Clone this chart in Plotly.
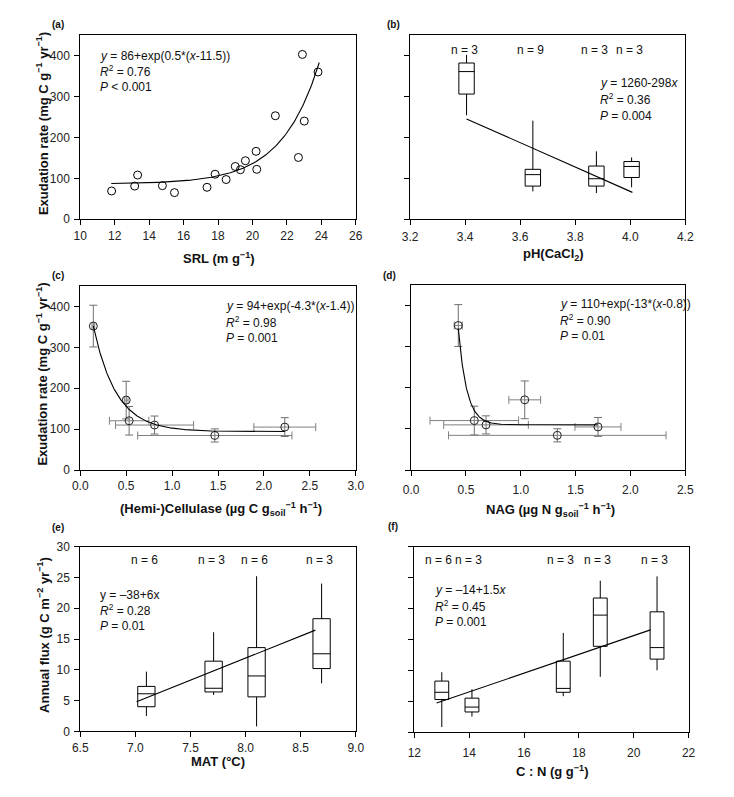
import numpy as np
import plotly.graph_objects as go

W, H = 734, 797
FONT = "Arial, Liberation Sans, sans-serif"

# ---------------- data ----------------
# (a) SRL vs exudation rate
srl = [11.82, 13.16, 13.33, 14.77, 15.47, 17.36, 17.83, 18.47, 19.0, 19.3,
       19.59, 20.21, 20.25, 21.33, 22.67, 22.9, 23.01, 23.81]
exud_a = [69, 81, 108, 82, 65, 78, 110, 97, 129, 121,
          143, 166, 122, 253, 151, 403, 240, 360]
fit_a = dict(a=86, b=0.46, c=11.5, x0=11.8, x1=23.88)

# (b) pH boxes
ph_pos = [3.405, 3.646, 3.877, 4.005]
ph_lo = [254, 68, 64, 78]
ph_q1 = [306, 81, 81, 102]
ph_med = [361, 109, 99, 129]
ph_q3 = [382, 122, 130, 141]
ph_hi = [402, 241, 166, 151]
ph_n = ["n = 3", "n = 9", "n = 3", "n = 3"]
fit_b = dict(a=1260, b=-298, x0=3.405, x1=4.008)

# (c)/(d) means with SE
exud_mean = [352, 171, 120.5, 110, 84.5, 105]
exud_err = [51, 46, 35, 22, 16, 23]
cell_x = [0.142, 0.50, 0.532, 0.809, 1.465, 2.227]
cell_xerr = [0.015, 0.02, 0.215, 0.425, 0.84, 0.337]
fit_c = dict(a=94, b=4.0, c=1.53, x0=0.142, x1=2.227)
nag_x = [0.430, 1.036, 0.576, 0.683, 1.333, 1.704]
nag_xerr = [0.037, 0.145, 0.404, 0.386, 0.992, 0.21]
fit_d = dict(a=110, b=13, c=0.85, x0=0.43, x1=1.70)

# (e) MAT boxes
mat_pos = [7.1, 7.71, 8.10, 8.69]
mat_lo = [2.5, 5.9, 0.8, 7.8]
mat_q1 = [4.0, 6.4, 5.6, 10.2]
mat_med = [6.1, 7.0, 9.0, 12.6]
mat_q3 = [7.3, 11.4, 13.6, 18.3]
mat_hi = [9.7, 16.1, 25.2, 24.0]
mat_n = ["n = 6", "n = 3", "n = 6", "n = 3"]
fit_e = dict(a=-45.55, b=7.18, x0=7.011, x1=8.634)

# (f) C:N boxes
cn_pos = [13.0, 14.1, 17.43, 18.78, 20.85]
cn_lo = [0.85, 2.55, 5.84, 8.97, 10.03]
cn_q1 = [5.3, 3.29, 6.47, 13.9, 11.83]
cn_med = [6.47, 4.08, 7.1, 18.94, 13.69]
cn_q3 = [8.28, 5.52, 11.5, 21.7, 19.47]
cn_hi = [9.71, 6.95, 16.07, 24.5, 25.2]
cn_n = ["n = 6", "n = 3", "n = 3", "n = 3", "n = 3"]
fit_f = dict(a=-14.71, b=1.517, x0=12.81, x1=20.61)

# ---------------- figure ----------------
fig = go.Figure()

# panel pixel boxes: (left, right, top, bottom)
panels = {
    1: (74, 356, 28.7, 216),
    2: (411.7, 693.3, 28.7, 216),
    3: (74, 356, 284, 471.3),
    4: (412.7, 693.3, 283.3, 471.3),
    5: (74, 356, 549.3, 737.3),
    6: (416, 696.7, 549.3, 738.3),
}
xranges = {1: [10, 26], 2: [3.2, 4.2], 3: [0, 3], 4: [0, 2.5], 5: [6.5, 9], 6: [12, 22]}
xdticks = {1: 2, 2: 0.2, 3: 0.5, 4: 0.5, 5: 0.5, 6: 2}
xfmt = {1: "d", 2: ".1f", 3: ".1f", 4: ".1f", 5: ".1f", 6: "d"}
xstandoff = {1: 0, 2: 1, 3: 0, 4: 4, 5: 0, 6: 4}
yranges = {1: [0, 450], 2: [0, 450], 3: [0, 450], 4: [0, 450], 5: [0, 30], 6: [0, 30]}

axstyle = dict(showline=True, linecolor="black", linewidth=1, mirror=True,
               ticks="outside", ticklen=5, tickwidth=1, tickcolor="black",
               showgrid=False, zeroline=False,
               tickfont=dict(family=FONT, size=12, color="#222"))

layout = {}
for i, (l, r, t, b) in panels.items():
    xs = "xaxis" if i == 1 else f"xaxis{i}"
    ys = "yaxis" if i == 1 else f"yaxis{i}"
    layout[xs] = dict(domain=[l / W, r / W], range=xranges[i], anchor=f"y{'' if i == 1 else i}",
                      tick0=xranges[i][0], dtick=xdticks[i], tickformat=xfmt[i],
                      ticklabelstandoff=xstandoff[i], **axstyle)
    tv = [0, 100, 200, 300, 400] if yranges[i][1] == 450 else [0, 5, 10, 15, 20, 25, 30]
    layout[ys] = dict(domain=[1 - b / H, 1 - t / H], range=yranges[i], anchor=f"x{'' if i == 1 else i}",
                      tickvals=tv, showticklabels=(i % 2 == 1), ticklabelstandoff=2, **axstyle)


def ax(i):
    return ("x" if i == 1 else f"x{i}", "y" if i == 1 else f"y{i}")


def add_boxes(i, pos, lo, q1, med, q3, hi, width):
    xa, ya = ax(i)
    for p, a, b_, c, d, e in zip(pos, lo, q1, med, q3, hi):
        fig.add_trace(go.Box(x=[p], lowerfence=[a], q1=[b_], median=[c], q3=[d], upperfence=[e],
                             width=width, fillcolor="white", line=dict(color="black", width=1),
                             whiskerwidth=0, boxpoints=False, showlegend=False,
                             xaxis=xa, yaxis=ya))


def add_line(i, x, y, width=1.1):
    xa, ya = ax(i)
    fig.add_trace(go.Scatter(x=x, y=y, mode="lines", line=dict(color="black", width=width),
                             showlegend=False, xaxis=xa, yaxis=ya))


# (a)
xa, ya = ax(1)
fig.add_trace(go.Scatter(x=srl, y=exud_a, mode="markers",
                         marker=dict(symbol="circle-open", size=8, color="black", line=dict(width=1)),
                         showlegend=False, xaxis=xa, yaxis=ya))
xx = np.linspace(fit_a["x0"], fit_a["x1"], 200)
add_line(1, xx, fit_a["a"] + np.exp(fit_a["b"] * (xx - fit_a["c"])))

# (b) - regression line drawn beneath the boxes
xb = np.array([fit_b["x0"], fit_b["x1"]])
add_line(2, xb, fit_b["a"] + fit_b["b"] * xb)
add_boxes(2, ph_pos, ph_lo, ph_q1, ph_med, ph_q3, ph_hi, 0.056)


# (c) & (d)
def add_err(i, x, xerr, fit):
    xa, ya = ax(i)
    fig.add_trace(go.Scatter(
        x=x, y=exud_mean, mode="markers",
        marker=dict(symbol="circle-open", size=8, color="#222", line=dict(width=1)),
        error_x=dict(type="data", array=xerr, color="#808080", thickness=1, width=4),
        error_y=dict(type="data", array=exud_err, color="#707070", thickness=1, width=4),
        showlegend=False, xaxis=xa, yaxis=ya))
    xx = np.linspace(fit["x0"], fit["x1"], 300)
    add_line(i, xx, fit["a"] + np.exp(-fit["b"] * (xx - fit["c"])))


add_err(3, cell_x, cell_xerr, fit_c)
add_err(4, nag_x, nag_xerr, fit_d)

# (e)
xe = np.array([fit_e["x0"], fit_e["x1"]])
add_line(5, xe, fit_e["a"] + fit_e["b"] * xe)
add_boxes(5, mat_pos, mat_lo, mat_q1, mat_med, mat_q3, mat_hi, 0.157)

# (f)
xf = np.array([fit_f["x0"], fit_f["x1"]])
add_line(6, xf, fit_f["a"] + fit_f["b"] * xf)
add_boxes(6, cn_pos, cn_lo, cn_q1, cn_med, cn_q3, cn_hi, 0.505)

# ---------------- annotations ----------------
ann = []
TF = dict(family=FONT, size=12, color="#111")


def stat_text(i, x, ys, lines):
    xa, ya = ax(i)
    for y, s in zip(ys, lines):
        ann.append(dict(x=x, y=y, xref=xa, yref=ya, text=s, showarrow=False,
                        xanchor="left", yanchor="middle", font=TF))


stat_text(1, 11.04, [400, 362, 323],
          ["<i>y</i> = 86+exp(0.5*(<i>x</i>-11.5))", "<i>R</i><sup>2</sup> = 0.76", "<i>P</i> &lt; 0.001"])
stat_text(2, 3.884, [332, 293, 253],
          ["<i>y</i> = 1260-298<i>x</i>", "<i>R</i><sup>2</sup> = 0.36", "<i>P</i> = 0.004"])
stat_text(3, 1.56, [402, 362, 324],
          ["<i>y</i> = 94+exp(-4.3*(<i>x</i>-1.4))", "<i>R</i><sup>2</sup> = 0.98", "<i>P</i> = 0.001"])
stat_text(4, 1.339, [404, 366, 327],
          ["<i>y</i> = 110+exp(-13*(<i>x</i>-0.8))", "<i>R</i><sup>2</sup> = 0.90", "<i>P</i> = 0.01"])
stat_text(5, 6.66, [22.1, 19.7, 17.1],
          ["y = –38+6x", "<i>R</i><sup>2</sup> = 0.28", "<i>P</i> = 0.01"])
stat_text(6, 12.68, [22.97, 20.37, 17.77],
          ["<i>y</i> = –14+1.5<i>x</i>", "<i>R</i><sup>2</sup> = 0.45", "<i>P</i> = 0.001"])


def n_labels(i, pos, labels, y, shift):
    xa, ya = ax(i)
    for p, s in zip(pos, labels):
        ann.append(dict(x=p, y=y, xref=xa, yref=ya, text=s, showarrow=False, xshift=shift,
                        xanchor="center", yanchor="middle", font=TF))


n_labels(2, ph_pos, ph_n, 414, -2)
n_labels(5, mat_pos, mat_n, 27.8, -2)
n_labels(6, cn_pos, cn_n, 27.85, -3)

# panel letters
BF = dict(family=FONT, size=10, color="#111")
for lab, (px, py) in {"(a)": (43, 18), "(b)": (386, 18), "(c)": (43, 273), "(d)": (382, 273),
                      "(e)": (43, 530), "(f)": (387, 529)}.items():
    ann.append(dict(x=px / W, y=1 - py / H, xref="paper", yref="paper", text=f"<b>{lab}</b>",
                    showarrow=False, xanchor="left", yanchor="middle", font=BF))

# axis titles: text, centre x (px), centre y (px)
TT = dict(family=FONT, size=13, color="#111")
xtitles = [
    ("SRL (m g<sup>−1</sup>)", 216, 255),
    ("pH(CaCl<sub>2</sub>)", 558, 252),
    ("(Hemi-)Cellulase (µg C g<sub>soil</sub><sup>−1</sup> h<sup>−1</sup>)", 218, 511),
    ("NAG (µg N g<sub>soil</sub><sup>−1</sup> h<sup>−1</sup>)", 555, 512),
    ("MAT (°C)", 215, 768),
    ("C : N (g g<sup>−1</sup>)", 557, 778),
]
for s, px, py in xtitles:
    ann.append(dict(x=px / W, y=1 - py / H, xref="paper", yref="paper",
                    text=f"<b>{s}</b>", showarrow=False, xanchor="center", yanchor="middle", font=TT))

ytitles = [("Exudation rate (mg C g<sup>−1</sup> yr<sup>−1</sup>)", 35, 119),
           ("Exudation rate (mg C g<sup>−1</sup> yr<sup>−1</sup>)", 35, 374),
           ("Annual flux (g C m<sup>−2</sup> yr<sup>−1</sup>)", 36, 639)]
for s, px, py in ytitles:
    ann.append(dict(x=px / W, y=1 - py / H, xref="paper", yref="paper",
                    text=f"<b>{s}</b>", showarrow=False, textangle=-90,
                    xanchor="center", yanchor="middle", font=TT))

fig.update_layout(width=W, height=H, margin=dict(l=0, r=0, t=0, b=0),
                  paper_bgcolor="white", plot_bgcolor="white", showlegend=False,
                  font=dict(family=FONT), annotations=ann, **layout)

fig.write_html("out.html", config={"displayModeBar": False},
               post_script="document.body.style.margin='0px';document.body.style.overflow='hidden';")
